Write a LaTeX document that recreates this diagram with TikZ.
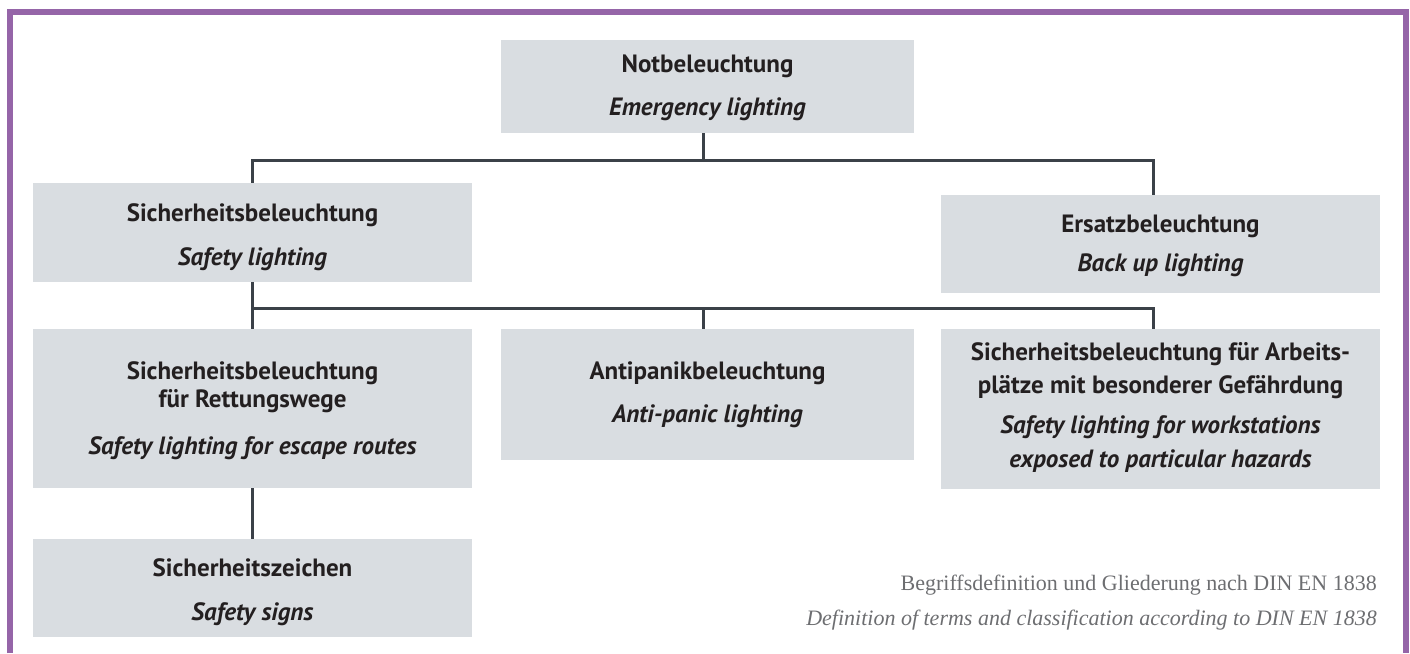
\documentclass[tikz,border=0pt]{standalone}
\usepackage{fontspec}
\setmainfont{PT Sans}
\newfontfamily\capfont{Liberation Serif}
\definecolor{boxgray}{HTML}{D9DDE1}
\definecolor{linegray}{HTML}{3B4148}
\definecolor{framepurple}{HTML}{9565A8}
\definecolor{captgray}{HTML}{6D6E71}
\definecolor{txt}{HTML}{231F20}
\begin{document}
\begin{tikzpicture}[x=1pt,y=-1pt,
  box/.style={fill=boxgray,draw=none,inner sep=0pt},
  boxtext/.style={inner sep=0pt,align=center,text=txt,
    font=\fontsize{25}{31}\selectfont\bfseries},
  conn/.style={draw=linegray,line width=3pt},
  frame/.style={draw=framepurple,line width=6pt},
  capt/.style={anchor=base east,inner sep=0pt,text=captgray,font=\capfont\fontsize{22}{26}\selectfont}]
\useasboundingbox (0,0) rectangle (1410,653);
% frame
\draw[frame] (9.5,653) -- (9.5,12) -- (1405.5,12) -- (1405.5,653);
% boxes
\node[box,minimum width=413pt,minimum height=93pt] (top) at (707.5,86.5) {};
\node[box,minimum width=439pt,minimum height=99pt] (safety) at (252.5,232.5) {};
\node[box,minimum width=439pt,minimum height=98pt] (backup) at (1160.5,244) {};
\node[box,minimum width=439pt,minimum height=159pt] (escape) at (252.5,408.5) {};
\node[box,minimum width=413pt,minimum height=131pt] (antipanic) at (707.5,394.5) {};
\node[box,minimum width=439pt,minimum height=160pt] (work) at (1160.5,409) {};
\node[box,minimum width=439pt,minimum height=98pt] (signs) at (252.5,588) {};
% box texts
\node[boxtext] (topT) at ([yshift=-1.5pt]top.center)
  {Notbeleuchtung\\[12pt]\textit{Emergency lighting}};
\node[boxtext] (safetyT) at ([yshift=-5pt]safety.center)
  {Sicherheitsbeleuchtung\\[13pt]\textit{Safety lighting}};
\node[boxtext] (backupT) at ([yshift=-2pt]backup.center)
  {Ersatzbeleuchtung\\[8pt]\textit{Back up lighting}};
\node[boxtext] (escapeT) at ([yshift=-2.5pt]escape.center)
  {Sicherheitsbeleuchtung\\[-3pt]für Rettungswege\\[16pt]\textit{Safety lighting for escape routes}};
\node[boxtext] (antipanicT) at (antipanic.center)
  {Antipanikbeleuchtung\\[12pt]\textit{Anti-panic lighting}};
\node[boxtext] (workT) at ([yshift=2pt]work.center)
  {Sicherheitsbeleuchtung für Arbeits-\\[2pt]plätze mit besonderer Gefährdung\\[9pt]\textit{Safety lighting for workstations}\\[3pt]\textit{exposed to particular hazards}};
\node[boxtext] (signsT) at ([yshift=-4pt]signs.center)
  {Sicherheitszeichen\\[13pt]\textit{Safety signs}};
% junction coordinates
\coordinate (M1) at (703,160);
\coordinate (L1) at (252.5,160);
\coordinate (R1) at (1153,160);
\coordinate (L2) at (252.5,308);
\coordinate (M2) at (703,308);
\coordinate (R2) at (1153,308);
% connectors
\draw[conn] (top.south -| M1) -- (M1);
\draw[conn] (safety.north) -- (L1) -- (R1) -- (backup.north -| R1);
\draw[conn] (safety.south) -- (escape.north);
\draw[conn] (L2) -- (R2) -- (work.north -| R2);
\draw[conn] (M2) -- (antipanic.north -| M2);
\draw[conn] (escape.south) -- (signs.north);
% caption
\node[capt] (cap1) at (1377,590) {Begriffsdefinition und Gliederung nach DIN EN 1838};
\node[capt] (cap2) at (1377,625) {\itshape Definition of terms and classification according to DIN EN 1838};
\end{tikzpicture}
\end{document}
